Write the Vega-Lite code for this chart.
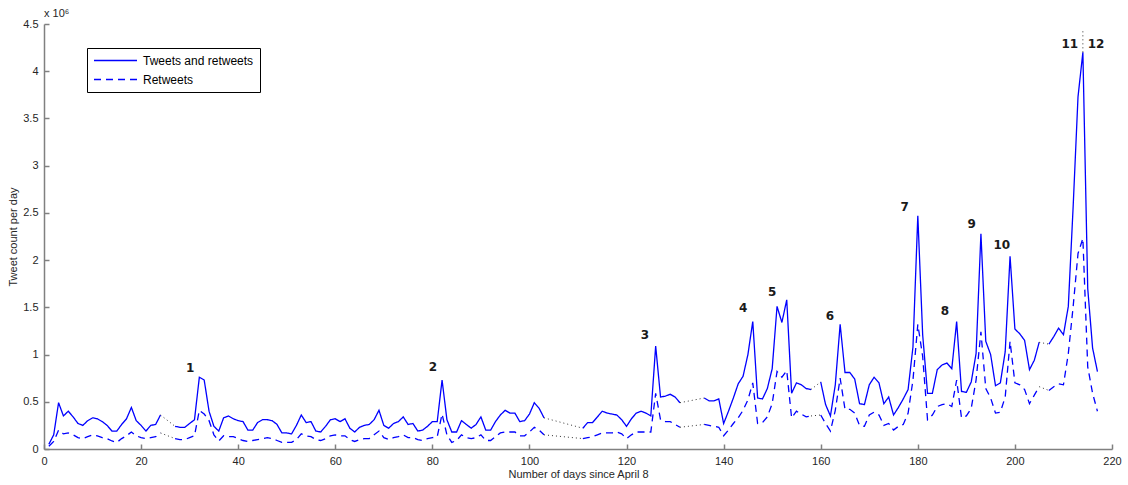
{
  "$schema": "https://vega.github.io/schema/vega-lite/v6.json",
  "width": 1068,
  "height": 425,
  "autosize": {"type": "none"},
  "padding": {"left": 44, "top": 24, "right": 16, "bottom": 36},
  "background": "white",
  "config": {
    "view": {"stroke": null},
    "font": "Liberation Sans",
    "axis": {
      "domainColor": "#808080",
      "domainWidth": 1.5,
      "tickColor": "#808080",
      "tickWidth": 1.5,
      "tickSize": -5,
      "grid": false,
      "labelFont": "Liberation Sans",
      "labelFontSize": 11,
      "labelColor": "#262626",
      "titleFont": "Liberation Sans",
      "titleFontSize": 11,
      "titleFontWeight": "normal",
      "titleColor": "#262626"
    }
  },
  "title": {
    "text": "x 10⁶",
    "anchor": "start",
    "frame": "group",
    "font": "Liberation Sans",
    "fontSize": 11,
    "fontWeight": "normal",
    "color": "#262626",
    "offset": -1
  },
  "datasets": {
    "tw": [
      {"day": 1, "total": 0.05, "retweets": 0.03, "seg": "A"},
      {"day": 2, "total": 0.15, "retweets": 0.08, "seg": "A"},
      {"day": 3, "total": 0.49, "retweets": 0.20, "seg": "A"},
      {"day": 4, "total": 0.35, "retweets": 0.16, "seg": "A"},
      {"day": 5, "total": 0.40, "retweets": 0.17, "seg": "A"},
      {"day": 6, "total": 0.34, "retweets": 0.15, "seg": "A"},
      {"day": 7, "total": 0.27, "retweets": 0.12, "seg": "A"},
      {"day": 8, "total": 0.25, "retweets": 0.11, "seg": "A"},
      {"day": 9, "total": 0.30, "retweets": 0.13, "seg": "A"},
      {"day": 10, "total": 0.33, "retweets": 0.15, "seg": "A"},
      {"day": 11, "total": 0.32, "retweets": 0.14, "seg": "A"},
      {"day": 12, "total": 0.29, "retweets": 0.12, "seg": "A"},
      {"day": 13, "total": 0.25, "retweets": 0.11, "seg": "A"},
      {"day": 14, "total": 0.19, "retweets": 0.085, "seg": "A"},
      {"day": 15, "total": 0.19, "retweets": 0.07, "seg": "A"},
      {"day": 16, "total": 0.26, "retweets": 0.11, "seg": "A"},
      {"day": 17, "total": 0.32, "retweets": 0.14, "seg": "A"},
      {"day": 18, "total": 0.44, "retweets": 0.18, "seg": "A"},
      {"day": 19, "total": 0.30, "retweets": 0.14, "seg": "A"},
      {"day": 20, "total": 0.25, "retweets": 0.12, "seg": "A"},
      {"day": 21, "total": 0.19, "retweets": 0.11, "seg": "A"},
      {"day": 22, "total": 0.25, "retweets": 0.12, "seg": "A"},
      {"day": 23, "total": 0.26, "retweets": 0.13, "seg": "A"},
      {"day": 24, "total": 0.36, "retweets": 0.17, "seg": "A", "gap": "g1"},
      {"day": 27, "total": 0.24, "retweets": 0.11, "seg": "B", "gap": "g1"},
      {"day": 28, "total": 0.23, "retweets": 0.10, "seg": "B"},
      {"day": 29, "total": 0.23, "retweets": 0.10, "seg": "B"},
      {"day": 30, "total": 0.27, "retweets": 0.12, "seg": "B"},
      {"day": 31, "total": 0.31, "retweets": 0.14, "seg": "B"},
      {"day": 32, "total": 0.76, "retweets": 0.41, "seg": "B"},
      {"day": 33, "total": 0.73, "retweets": 0.37, "seg": "B"},
      {"day": 34, "total": 0.40, "retweets": 0.30, "seg": "B"},
      {"day": 35, "total": 0.24, "retweets": 0.15, "seg": "B"},
      {"day": 36, "total": 0.19, "retweets": 0.085, "seg": "B"},
      {"day": 37, "total": 0.33, "retweets": 0.14, "seg": "B"},
      {"day": 38, "total": 0.35, "retweets": 0.13, "seg": "B"},
      {"day": 39, "total": 0.32, "retweets": 0.13, "seg": "B"},
      {"day": 40, "total": 0.30, "retweets": 0.11, "seg": "B"},
      {"day": 41, "total": 0.29, "retweets": 0.09, "seg": "B"},
      {"day": 42, "total": 0.20, "retweets": 0.08, "seg": "B"},
      {"day": 43, "total": 0.20, "retweets": 0.09, "seg": "B"},
      {"day": 44, "total": 0.28, "retweets": 0.10, "seg": "B"},
      {"day": 45, "total": 0.31, "retweets": 0.11, "seg": "B"},
      {"day": 46, "total": 0.31, "retweets": 0.12, "seg": "B"},
      {"day": 47, "total": 0.30, "retweets": 0.11, "seg": "B"},
      {"day": 48, "total": 0.26, "retweets": 0.09, "seg": "B"},
      {"day": 49, "total": 0.17, "retweets": 0.07, "seg": "B"},
      {"day": 50, "total": 0.17, "retweets": 0.07, "seg": "B"},
      {"day": 51, "total": 0.16, "retweets": 0.07, "seg": "B"},
      {"day": 52, "total": 0.25, "retweets": 0.10, "seg": "B"},
      {"day": 53, "total": 0.36, "retweets": 0.16, "seg": "B"},
      {"day": 54, "total": 0.28, "retweets": 0.14, "seg": "B"},
      {"day": 55, "total": 0.29, "retweets": 0.13, "seg": "B"},
      {"day": 56, "total": 0.19, "retweets": 0.10, "seg": "B"},
      {"day": 57, "total": 0.18, "retweets": 0.09, "seg": "B"},
      {"day": 58, "total": 0.24, "retweets": 0.11, "seg": "B"},
      {"day": 59, "total": 0.31, "retweets": 0.14, "seg": "B"},
      {"day": 60, "total": 0.32, "retweets": 0.15, "seg": "B"},
      {"day": 61, "total": 0.29, "retweets": 0.14, "seg": "B"},
      {"day": 62, "total": 0.32, "retweets": 0.14, "seg": "B"},
      {"day": 63, "total": 0.22, "retweets": 0.10, "seg": "B"},
      {"day": 64, "total": 0.18, "retweets": 0.08, "seg": "B"},
      {"day": 65, "total": 0.23, "retweets": 0.10, "seg": "B"},
      {"day": 66, "total": 0.25, "retweets": 0.11, "seg": "B"},
      {"day": 67, "total": 0.26, "retweets": 0.11, "seg": "B"},
      {"day": 68, "total": 0.31, "retweets": 0.15, "seg": "B"},
      {"day": 69, "total": 0.41, "retweets": 0.19, "seg": "B"},
      {"day": 70, "total": 0.25, "retweets": 0.12, "seg": "B"},
      {"day": 71, "total": 0.22, "retweets": 0.10, "seg": "B"},
      {"day": 72, "total": 0.27, "retweets": 0.12, "seg": "B"},
      {"day": 73, "total": 0.29, "retweets": 0.13, "seg": "B"},
      {"day": 74, "total": 0.34, "retweets": 0.15, "seg": "B"},
      {"day": 75, "total": 0.26, "retweets": 0.12, "seg": "B"},
      {"day": 76, "total": 0.27, "retweets": 0.12, "seg": "B"},
      {"day": 77, "total": 0.19, "retweets": 0.10, "seg": "B"},
      {"day": 78, "total": 0.20, "retweets": 0.09, "seg": "B"},
      {"day": 79, "total": 0.24, "retweets": 0.11, "seg": "B"},
      {"day": 80, "total": 0.29, "retweets": 0.12, "seg": "B"},
      {"day": 81, "total": 0.29, "retweets": 0.13, "seg": "B"},
      {"day": 82, "total": 0.73, "retweets": 0.37, "seg": "B"},
      {"day": 83, "total": 0.31, "retweets": 0.15, "seg": "B"},
      {"day": 84, "total": 0.18, "retweets": 0.07, "seg": "B"},
      {"day": 85, "total": 0.18, "retweets": 0.09, "seg": "B"},
      {"day": 86, "total": 0.30, "retweets": 0.15, "seg": "B"},
      {"day": 87, "total": 0.26, "retweets": 0.12, "seg": "B"},
      {"day": 88, "total": 0.22, "retweets": 0.11, "seg": "B"},
      {"day": 89, "total": 0.26, "retweets": 0.12, "seg": "B"},
      {"day": 90, "total": 0.34, "retweets": 0.15, "seg": "B"},
      {"day": 91, "total": 0.20, "retweets": 0.09, "seg": "B"},
      {"day": 92, "total": 0.20, "retweets": 0.09, "seg": "B"},
      {"day": 93, "total": 0.29, "retweets": 0.13, "seg": "B"},
      {"day": 94, "total": 0.36, "retweets": 0.17, "seg": "B"},
      {"day": 95, "total": 0.41, "retweets": 0.18, "seg": "B"},
      {"day": 96, "total": 0.38, "retweets": 0.18, "seg": "B"},
      {"day": 97, "total": 0.38, "retweets": 0.18, "seg": "B"},
      {"day": 98, "total": 0.29, "retweets": 0.14, "seg": "B"},
      {"day": 99, "total": 0.30, "retweets": 0.14, "seg": "B"},
      {"day": 100, "total": 0.37, "retweets": 0.18, "seg": "B"},
      {"day": 101, "total": 0.49, "retweets": 0.23, "seg": "B"},
      {"day": 102, "total": 0.43, "retweets": 0.20, "seg": "B"},
      {"day": 103, "total": 0.33, "retweets": 0.15, "seg": "B", "gap": "g2"},
      {"day": 111, "total": 0.22, "retweets": 0.11, "seg": "C", "gap": "g2"},
      {"day": 112, "total": 0.28, "retweets": 0.12, "seg": "C"},
      {"day": 113, "total": 0.28, "retweets": 0.13, "seg": "C"},
      {"day": 114, "total": 0.34, "retweets": 0.15, "seg": "C"},
      {"day": 115, "total": 0.40, "retweets": 0.17, "seg": "C"},
      {"day": 116, "total": 0.38, "retweets": 0.17, "seg": "C"},
      {"day": 117, "total": 0.37, "retweets": 0.17, "seg": "C"},
      {"day": 118, "total": 0.36, "retweets": 0.18, "seg": "C"},
      {"day": 119, "total": 0.31, "retweets": 0.16, "seg": "C"},
      {"day": 120, "total": 0.24, "retweets": 0.11, "seg": "C"},
      {"day": 121, "total": 0.32, "retweets": 0.15, "seg": "C"},
      {"day": 122, "total": 0.38, "retweets": 0.18, "seg": "C"},
      {"day": 123, "total": 0.40, "retweets": 0.18, "seg": "C"},
      {"day": 124, "total": 0.38, "retweets": 0.18, "seg": "C"},
      {"day": 125, "total": 0.35, "retweets": 0.18, "seg": "C"},
      {"day": 126, "total": 1.09, "retweets": 0.59, "seg": "C"},
      {"day": 127, "total": 0.55, "retweets": 0.31, "seg": "C"},
      {"day": 128, "total": 0.56, "retweets": 0.29, "seg": "C"},
      {"day": 129, "total": 0.58, "retweets": 0.29, "seg": "C"},
      {"day": 130, "total": 0.55, "retweets": 0.26, "seg": "C"},
      {"day": 131, "total": 0.49, "retweets": 0.23, "seg": "C", "gap": "g3"},
      {"day": 136, "total": 0.54, "retweets": 0.26, "seg": "D", "gap": "g3"},
      {"day": 137, "total": 0.51, "retweets": 0.25, "seg": "D"},
      {"day": 138, "total": 0.51, "retweets": 0.24, "seg": "D"},
      {"day": 139, "total": 0.53, "retweets": 0.23, "seg": "D"},
      {"day": 140, "total": 0.27, "retweets": 0.14, "seg": "D"},
      {"day": 141, "total": 0.40, "retweets": 0.20, "seg": "D"},
      {"day": 142, "total": 0.54, "retweets": 0.27, "seg": "D"},
      {"day": 143, "total": 0.69, "retweets": 0.33, "seg": "D"},
      {"day": 144, "total": 0.77, "retweets": 0.41, "seg": "D"},
      {"day": 145, "total": 1.00, "retweets": 0.52, "seg": "D"},
      {"day": 146, "total": 1.35, "retweets": 0.70, "seg": "D"},
      {"day": 147, "total": 0.54, "retweets": 0.27, "seg": "D"},
      {"day": 148, "total": 0.53, "retweets": 0.28, "seg": "D"},
      {"day": 149, "total": 0.64, "retweets": 0.34, "seg": "D"},
      {"day": 150, "total": 0.85, "retweets": 0.48, "seg": "D"},
      {"day": 151, "total": 1.51, "retweets": 0.82, "seg": "D"},
      {"day": 152, "total": 1.34, "retweets": 0.76, "seg": "D"},
      {"day": 153, "total": 1.58, "retweets": 0.83, "seg": "D"},
      {"day": 154, "total": 0.59, "retweets": 0.33, "seg": "D"},
      {"day": 155, "total": 0.70, "retweets": 0.40, "seg": "D"},
      {"day": 156, "total": 0.68, "retweets": 0.37, "seg": "D"},
      {"day": 157, "total": 0.64, "retweets": 0.34, "seg": "D"},
      {"day": 158, "total": 0.63, "retweets": 0.35, "seg": "D", "gap": "g4"},
      {"day": 160, "total": 0.71, "retweets": 0.36, "seg": "E", "gap": "g4"},
      {"day": 161, "total": 0.47, "retweets": 0.27, "seg": "E"},
      {"day": 162, "total": 0.35, "retweets": 0.19, "seg": "E"},
      {"day": 163, "total": 0.68, "retweets": 0.41, "seg": "E"},
      {"day": 164, "total": 1.32, "retweets": 0.75, "seg": "E"},
      {"day": 165, "total": 0.81, "retweets": 0.42, "seg": "E"},
      {"day": 166, "total": 0.81, "retweets": 0.42, "seg": "E"},
      {"day": 167, "total": 0.74, "retweets": 0.38, "seg": "E"},
      {"day": 168, "total": 0.48, "retweets": 0.25, "seg": "E"},
      {"day": 169, "total": 0.47, "retweets": 0.24, "seg": "E"},
      {"day": 170, "total": 0.68, "retweets": 0.36, "seg": "E"},
      {"day": 171, "total": 0.76, "retweets": 0.39, "seg": "E"},
      {"day": 172, "total": 0.70, "retweets": 0.36, "seg": "E"},
      {"day": 173, "total": 0.48, "retweets": 0.25, "seg": "E"},
      {"day": 174, "total": 0.55, "retweets": 0.27, "seg": "E"},
      {"day": 175, "total": 0.36, "retweets": 0.20, "seg": "E"},
      {"day": 176, "total": 0.44, "retweets": 0.24, "seg": "E"},
      {"day": 177, "total": 0.53, "retweets": 0.26, "seg": "E"},
      {"day": 178, "total": 0.63, "retweets": 0.38, "seg": "E"},
      {"day": 179, "total": 1.08, "retweets": 0.73, "seg": "E"},
      {"day": 180, "total": 2.47, "retweets": 1.32, "seg": "E"},
      {"day": 181, "total": 1.21, "retweets": 0.98, "seg": "E"},
      {"day": 182, "total": 0.59, "retweets": 0.31, "seg": "E"},
      {"day": 183, "total": 0.59, "retweets": 0.36, "seg": "E"},
      {"day": 184, "total": 0.84, "retweets": 0.45, "seg": "E"},
      {"day": 185, "total": 0.89, "retweets": 0.47, "seg": "E"},
      {"day": 186, "total": 0.91, "retweets": 0.48, "seg": "E"},
      {"day": 187, "total": 0.85, "retweets": 0.45, "seg": "E"},
      {"day": 188, "total": 1.35, "retweets": 0.73, "seg": "E"},
      {"day": 189, "total": 0.61, "retweets": 0.33, "seg": "E"},
      {"day": 190, "total": 0.60, "retweets": 0.35, "seg": "E"},
      {"day": 191, "total": 0.71, "retweets": 0.43, "seg": "E"},
      {"day": 192, "total": 1.01, "retweets": 0.73, "seg": "E"},
      {"day": 193, "total": 2.28, "retweets": 1.24, "seg": "E"},
      {"day": 194, "total": 1.14, "retweets": 0.64, "seg": "E"},
      {"day": 195, "total": 1.00, "retweets": 0.54, "seg": "E"},
      {"day": 196, "total": 0.67, "retweets": 0.38, "seg": "E"},
      {"day": 197, "total": 0.70, "retweets": 0.39, "seg": "E"},
      {"day": 198, "total": 1.03, "retweets": 0.55, "seg": "E"},
      {"day": 199, "total": 2.04, "retweets": 1.14, "seg": "E"},
      {"day": 200, "total": 1.27, "retweets": 0.70, "seg": "E"},
      {"day": 201, "total": 1.22, "retweets": 0.68, "seg": "E"},
      {"day": 202, "total": 1.15, "retweets": 0.63, "seg": "E"},
      {"day": 203, "total": 0.84, "retweets": 0.48, "seg": "E"},
      {"day": 204, "total": 0.94, "retweets": 0.57, "seg": "E"},
      {"day": 205, "total": 1.13, "retweets": 0.66, "seg": "E", "gap": "g5"},
      {"day": 207, "total": 1.11, "retweets": 0.62, "seg": "F", "gap": "g5"},
      {"day": 208, "total": 1.19, "retweets": 0.66, "seg": "F"},
      {"day": 209, "total": 1.28, "retweets": 0.69, "seg": "F"},
      {"day": 210, "total": 1.21, "retweets": 0.68, "seg": "F"},
      {"day": 211, "total": 1.51, "retweets": 1.01, "seg": "F"},
      {"day": 212, "total": 2.57, "retweets": 1.51, "seg": "F"},
      {"day": 213, "total": 3.73, "retweets": 2.07, "seg": "F"},
      {"day": 214, "total": 4.20, "retweets": 2.23, "seg": "F"},
      {"day": 215, "total": 1.70, "retweets": 0.87, "seg": "F"},
      {"day": 216, "total": 1.07, "retweets": 0.59, "seg": "F"},
      {"day": 217, "total": 0.82, "retweets": 0.40, "seg": "F"}
    ],
    "labels": [
      {"label": "1", "day": 30.1, "value": 0.86},
      {"label": "2", "day": 80.1, "value": 0.87},
      {"label": "3", "day": 123.8, "value": 1.21},
      {"label": "4", "day": 144.0, "value": 1.49},
      {"label": "5", "day": 150.0, "value": 1.66},
      {"label": "6", "day": 161.9, "value": 1.41},
      {"label": "7", "day": 177.3, "value": 2.56},
      {"label": "8", "day": 185.6, "value": 1.46},
      {"label": "9", "day": 191.1, "value": 2.38},
      {"label": "10", "day": 197.3, "value": 2.16},
      {"label": "11", "day": 211.3, "value": 4.29},
      {"label": "12", "day": 216.7, "value": 4.29}
    ],
    "divider": [
      {"day": 214, "low": 4.2, "high": 4.45}
    ]
  },
  "layer": [
    {
      "data": {"name": "tw"},
      "transform": [{"fold": ["total", "retweets"], "as": ["series", "value"]}],
      "mark": {"type": "line", "strokeWidth": 1.3},
      "encoding": {
        "x": {
          "field": "day", "type": "quantitative",
          "scale": {"domain": [0, 220], "nice": false},
          "axis": {"values": [0, 20, 40, 60, 80, 100, 120, 140, 160, 180, 200, 220], "title": "Number of days since April 8", "labelPadding": 11, "titlePadding": 2, "labelFlush": false}
        },
        "y": {
          "field": "value", "type": "quantitative",
          "scale": {"domain": [0, 4.5], "nice": false},
          "axis": {"values": [0, 0.5, 1, 1.5, 2, 2.5, 3, 3.5, 4, 4.5], "format": "~g", "title": "Tweet count per day", "labelPadding": 11, "titlePadding": 4, "labelFlush": false}
        },
        "color": {
          "field": "series", "type": "nominal",
          "scale": {"domain": ["total", "retweets"], "range": ["#0000ff", "#0000ff"]},
          "legend": {
            "title": null,
            "orient": "none",
            "legendX": 43,
            "legendY": 24,
            "direction": "vertical",
            "symbolType": "stroke",
            "symbolSize": 1849,
            "symbolStrokeWidth": 1.3,
            "clipHeight": 13,
            "rowPadding": 6,
            "labelFont": "Liberation Sans",
            "labelFontSize": 12,
            "labelColor": "#000000",
            "labelOffset": 5,
            "strokeColor": "#000000",
            "fillColor": "#ffffff",
            "padding": 6,
            "labelExpr": "datum.label == 'total' ? 'Tweets and retweets' : 'Retweets'"
          }
        },
        "strokeDash": {
          "field": "series", "type": "nominal",
          "scale": {"domain": ["total", "retweets"], "range": [[1, 0], [7, 5]]},
          "legend": {
            "title": null,
            "orient": "none",
            "legendX": 43,
            "legendY": 24,
            "direction": "vertical",
            "symbolType": "stroke",
            "symbolSize": 1849,
            "symbolStrokeWidth": 1.3,
            "clipHeight": 13,
            "rowPadding": 6,
            "labelFont": "Liberation Sans",
            "labelFontSize": 12,
            "labelColor": "#000000",
            "labelOffset": 5,
            "strokeColor": "#000000",
            "fillColor": "#ffffff",
            "padding": 6,
            "labelExpr": "datum.label == 'total' ? 'Tweets and retweets' : 'Retweets'"
          }
        },
        "detail": {"field": "seg"}
      }
    },
    {
      "data": {"name": "tw"},
      "transform": [
        {"filter": "isValid(datum.gap)"},
        {"fold": ["total", "retweets"], "as": ["series", "value"]}
      ],
      "mark": {"type": "line", "color": "#333333", "strokeWidth": 1, "strokeDash": [1, 3]},
      "encoding": {
        "x": {"field": "day", "type": "quantitative"},
        "y": {"field": "value", "type": "quantitative"},
        "detail": [{"field": "gap"}, {"field": "series"}]
      }
    },
    {
      "data": {"name": "divider"},
      "mark": {"type": "rule", "color": "#333333", "strokeWidth": 1, "strokeDash": [1, 3]},
      "encoding": {
        "x": {"field": "day", "type": "quantitative"},
        "y": {"field": "low", "type": "quantitative"},
        "y2": {"field": "high"}
      }
    },
    {
      "data": {"name": "labels"},
      "mark": {"type": "text", "font": "DejaVu Sans", "fontWeight": "bold", "fontSize": 12, "color": "#1a1a1a", "align": "center", "baseline": "middle"},
      "encoding": {
        "x": {"field": "day", "type": "quantitative"},
        "y": {"field": "value", "type": "quantitative"},
        "text": {"field": "label"}
      }
    }
  ]
}
